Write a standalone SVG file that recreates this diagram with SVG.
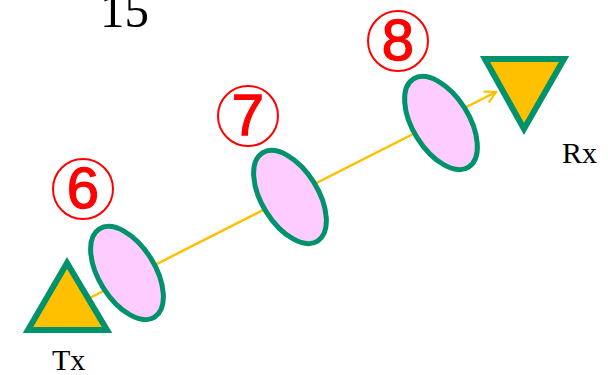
<svg xmlns="http://www.w3.org/2000/svg" width="608" height="375" viewBox="0 0 608 375">
<style>
.lbl{font-family:"Liberation Serif",serif;fill:#000}
.num{font-family:"Liberation Sans",Arial,sans-serif;font-size:58px;fill:#FF0000;stroke:#FF0000;stroke-width:1.3;text-anchor:middle}
.ring{fill:none;stroke:#FF0000;stroke-width:2}
.ell{fill:#FFCCFF;stroke:#00936B;stroke-width:5}
.tri{fill:#FFC000;stroke:#00936B;stroke-width:6;stroke-linejoin:miter}
</style>
<defs>
<marker id="arr" viewBox="0 0 14 14" refX="12" refY="7" markerWidth="14" markerHeight="14" markerUnits="userSpaceOnUse" orient="auto">
<path d="M1,1 L12,7 L1,13" fill="none" stroke="#FFC000" stroke-width="2.2"/>
</marker>
</defs>
<text class="lbl" x="100" y="27" font-size="49">15</text>
<g id="connectors">
<line x1="70" y1="308" x2="496" y2="92" stroke="#FFC000" stroke-width="2.5" marker-end="url(#arr)"/>
</g>
<g id="e1"><ellipse class="ell" cx="127" cy="273" rx="52" ry="28" transform="rotate(58 127 273)"/></g>
<g id="e2"><ellipse class="ell" cx="290" cy="197" rx="52" ry="28" transform="rotate(58 290 197)"/></g>
<g id="e3"><ellipse class="ell" cx="441" cy="123" rx="52" ry="28" transform="rotate(58 441 123)"/></g>
<g id="tx"><polygon class="tri" points="67,263 28,330 107,330"/><text class="lbl" x="52" y="370" font-size="30">Tx</text></g>
<g id="rx"><polygon class="tri" points="485,59 564,59 524,129"/><text class="lbl" x="562" y="163" font-size="30">Rx</text></g>
<g id="n6"><circle class="ring" cx="83" cy="189" r="30"/><text class="num" x="83" y="208">6</text></g>
<g id="n7"><circle class="ring" cx="248" cy="116" r="30"/><text class="num" x="248" y="135">7</text></g>
<g id="n8"><circle class="ring" cx="398" cy="41" r="30"/><text class="num" x="398" y="60">8</text></g>
</svg>
